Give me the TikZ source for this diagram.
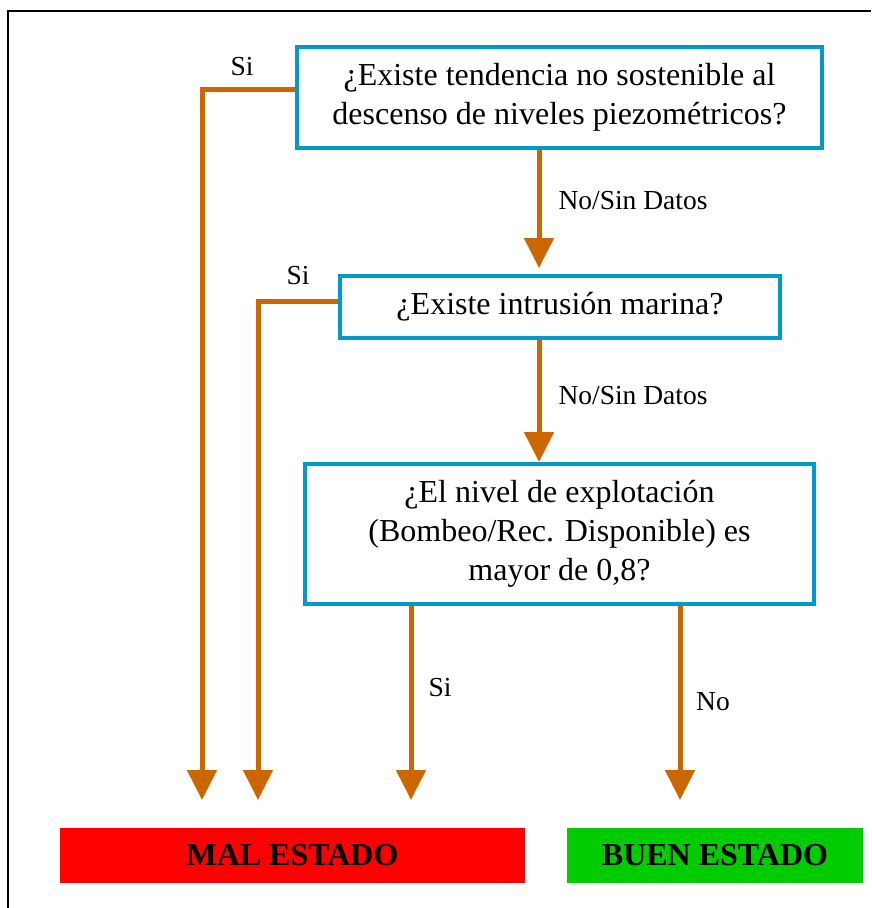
\documentclass[tikz,border=0pt]{standalone}
\usepackage{fontspec}
\setmainfont{Liberation Serif}
\usetikzlibrary{arrows.meta}
\definecolor{boxblue}{RGB}{0,153,204}
\definecolor{arrowc}{RGB}{204,102,0}
\definecolor{malred}{RGB}{255,0,0}
\definecolor{buengreen}{RGB}{0,204,0}
\begin{document}
\begin{tikzpicture}[x=1pt,y=-1pt,
  qbox/.style={draw=boxblue, line width=4pt, fill=white, align=center,
    font=\fontsize{32}{39}\selectfont, inner sep=0pt},
  arr/.style={draw=arrowc, line width=5pt, line join=miter,
    -{Triangle[width=29pt,length=30pt]}},
  lbl/.style={font=\fontsize{27.5}{33}\selectfont, inner sep=0pt},
  result/.style={font=\bfseries\fontsize{32}{39}\selectfont,
    minimum height=55pt, inner sep=0pt}
]
\useasboundingbox (0,0) rectangle (871,908);
% frame
\draw[line width=2.5pt] (8,908) -- (8,11) -- (871,11);

% question boxes
\node[qbox, minimum width=525pt, minimum height=101pt] (b1) at (559.5,97.5)
  {¿Existe tendencia no sostenible al\\descenso de niveles piezométricos?};
\node[qbox, minimum width=440pt, minimum height=62pt] (b2) at (560,307)
  {¿Existe intrusión marina?};
\node[qbox, minimum width=509pt, minimum height=140pt] (b3) at (559.5,534)
  {¿El nivel de explotación\\(Bombeo/Rec. Disponible) es\\mayor de 0,8?};

% results
\node[result, fill=malred, minimum width=465pt] (mal) at (292.5,855.5) {MAL ESTADO};
\node[result, fill=buengreen, minimum width=296pt] (buen) at (715,855.5) {BUEN ESTADO};

% arrow end points
\coordinate (e1) at (202,800);
\coordinate (e2) at (258,800);
\coordinate (e3) at (411,800);
\coordinate (e4) at (680,800);

% connectors
\draw[arr] (b1.west |- 0,89.5) -| (e1);
\draw[arr] (b2.west |- 0,301.5) -| (e2);
\draw[arr] (b1.south -| 539,0) -- ([yshift=6pt]b2.north -| 539,0);
\draw[arr] (b2.south -| 539,0) -- (b3.north -| 539,0);
\draw[arr] (b3.south -| e3) -- (e3);
\draw[arr] (b3.south -| e4) -- (e4);

% labels
\node[lbl] (s1) at (242,67) {Si};
\node[lbl] (s2) at (298,276) {Si};
\node[lbl] (n1) at (633,201) {No/Sin Datos};
\node[lbl] (n2) at (633,396) {No/Sin Datos};
\node[lbl] (s3) at (440,688) {Si};
\node[lbl] (n3) at (713,702) {No};
\end{tikzpicture}
\end{document}
